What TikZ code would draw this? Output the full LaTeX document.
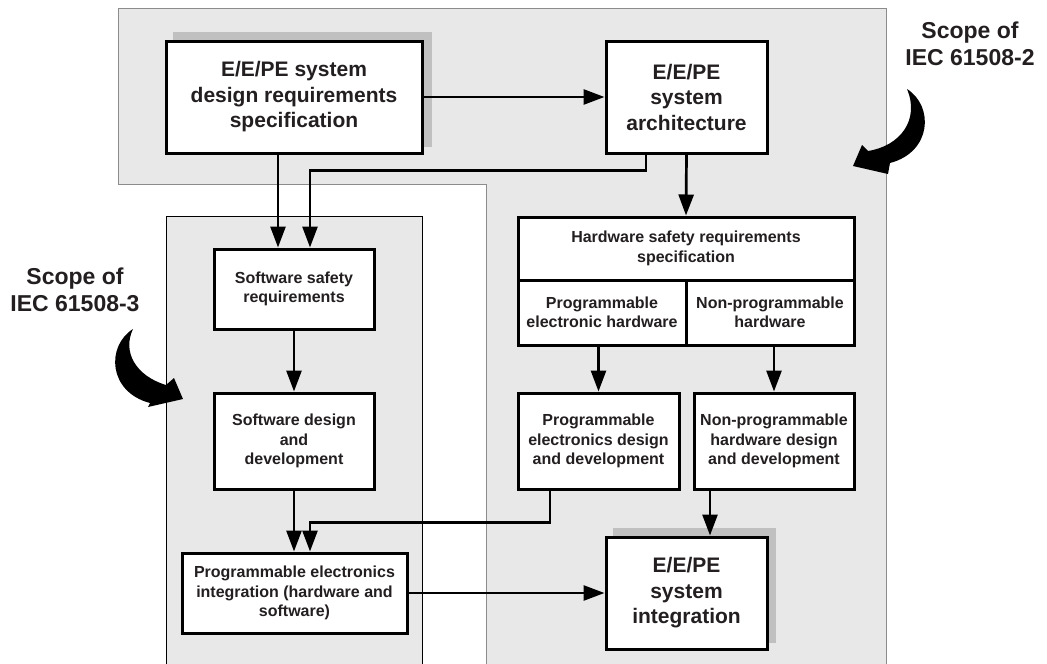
\documentclass[tikz,border=0pt]{standalone}
\usepackage{fontspec}
\setmainfont{Liberation Sans}
\usetikzlibrary{arrows.meta}
\definecolor{txt}{RGB}{35,31,32}
\definecolor{regfill}{RGB}{232,232,232}
\definecolor{shadowgray}{RGB}{192,192,192}
\definecolor{regborder}{RGB}{140,140,140}
\begin{document}
\begin{tikzpicture}[x=1pt,y=-1pt,
  box/.style={draw=black, line width=3pt, fill=white, align=center, inner sep=0pt,
    text=txt, font=\bfseries\fontsize{16}{19.5}\selectfont},
  bigbox/.style={box, font=\bfseries\fontsize{21}{25.5}\selectfont},
  arr/.style={line width=2.7pt, -{Triangle[length=21pt,width=15pt]}},
  scopelabel/.style={align=center, text=txt, font=\bfseries\fontsize{23}{27}\selectfont},
  region/.style={fill=regfill, line width=1pt}]
\useasboundingbox (0,0) rectangle (1047,664);
\clip (0,0) rectangle (1047,664);
% scope regions
\draw[region, draw=regborder] (118,8) -- (886,8) -- (886,680) -- (486,680) -- (486,184) -- (118,184) -- cycle;
\draw[region, draw=black] (166,216) rectangle (422,680);
% shadows
\fill[shadowgray] (173,32) rectangle (432,147);
\fill[shadowgray] (613,528) rectangle (776,643);
% boxes
\node[bigbox, minimum width=256pt, minimum height=112pt] (sysreq) at (294,97)
  {E/E/PE system\\design requirements\\specification};
\node[bigbox, minimum width=161pt, minimum height=112pt] (arch) at (686.5,97)
  {E/E/PE\\system\\architecture};
\node[box, minimum width=160pt, minimum height=80pt] (swreq) at (294,289)
  {Software safety\\requirements};
\node[box, minimum width=160pt, minimum height=96pt] (swdes) at (294,441)
  {Software design\\and\\development};
\node[box, minimum width=225pt, minimum height=80pt] (peint) at (294.5,593)
  {Programmable electronics\\integration (hardware and\\software)};
\node[box, minimum width=336pt, minimum height=63pt] (hwreq) at (686,248.5)
  {Hardware safety requirements\\specification};
\node[box, minimum width=168pt, minimum height=65pt] (hwprog) at (602,312.5)
  {Programmable\\electronic hardware};
\node[box, minimum width=168pt, minimum height=65pt] (hwnon) at (770,312.5)
  {Non-programmable\\hardware};
\node[box, minimum width=161pt, minimum height=96pt] (pedes) at (598.5,441)
  {Programmable\\electronics design\\and development};
\node[box, minimum width=160pt, minimum height=96pt] (nphdes) at (774,441)
  {Non-programmable\\hardware design\\and development};
\node[bigbox, minimum width=161pt, minimum height=112pt] (sysint) at (686.5,593)
  {E/E/PE\\system\\integration};
% connectors
\draw[arr] (sysreq.east) -- (arch.west);
\draw[arr] ([xshift=-16pt]sysreq.south) -- ([xshift=-16pt]swreq.north);
\coordinate (archturn) at ([xshift=-40.5pt]arch.south);
\draw[arr] (archturn) -- ++(0,16) -| ([xshift=16pt]swreq.north);
\draw[arr] (arch.south) -- (hwreq.north);
\draw[arr] (swreq.south) -- (swdes.north);
\draw[arr] (swdes.south) -- ([xshift=-0.5pt]peint.north);
\coordinate (peturn) at ([xshift=-48.5pt]pedes.south);
\draw[arr] (peturn) -- ++(0,32) -| ([xshift=15.5pt]peint.north);
\draw[arr] (peint.east) -- (sysint.west);
\draw[arr] (pedes.north |- hwprog.south) -- (pedes.north);
\draw[arr] (nphdes.north |- hwnon.south) -- (nphdes.north);
\coordinate (npturn) at ([xshift=-64pt]nphdes.south);
\draw[arr] (npturn) -- (npturn |- sysint.north);
% scope labels
\node[scopelabel] (scope2) at (970,44) {Scope of\\IEC 61508-2};
\node[scopelabel] (scope3) at (75,290) {Scope of\\IEC 61508-3};
% curved arrows
\fill[black] (907,89) .. controls (934,106) and (932,152) .. (890,163) -- (888,174) -- (853,166) -- (862,145) -- (868,151) .. controls (900,146) and (920,120) .. cycle;
\fill[black] (133,329) .. controls (106,346) and (108,392) .. (150,403) -- (148,407) -- (183,399) -- (174,378) -- (166,385) .. controls (136,376) and (122,352) .. cycle;
\end{tikzpicture}
\end{document}
